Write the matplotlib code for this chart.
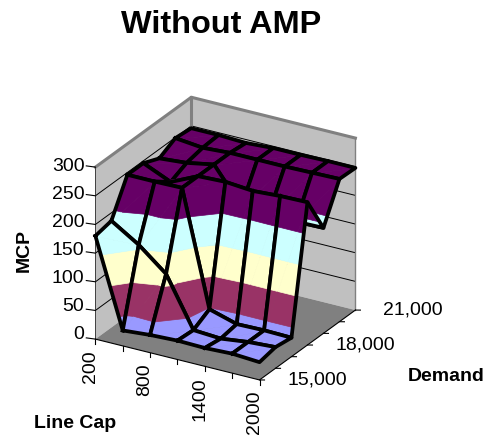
import matplotlib
matplotlib.use("Agg")
import matplotlib.pyplot as plt
from mpl_toolkits.mplot3d import proj3d
from mpl_toolkits.mplot3d.art3d import Poly3DCollection

plt.rcParams["font.family"] = ["Liberation Sans", "DejaVu Sans"]

line_cap = [200, 500, 800, 1100, 1400, 1700, 2000]
demand = [15000, 16000, 17000, 18000, 19000, 20000, 21000]
line_cap_ticks = [200, 800, 1400, 2000]
demand_ticks = [15000, 18000, 21000]
mcp_ticks = [0, 50, 100, 150, 200, 250, 300]

# MCP per line cap, one list for each demand level
mcp_15000 = [180, 27, 31, 33, 32, 34, 31]
mcp_16000 = [186, 156, 117, 31, 28, 34, 37]
mcp_17000 = [246, 246, 247, 47, 33, 34, 33]
mcp_18000 = [246, 225, 247, 249, 245, 248, 249]
mcp_19000 = [234, 238, 247, 186, 185, 183, 184]
mcp_20000 = [249, 244, 247, 247, 247, 248, 249]
mcp_21000 = [246, 246, 244, 247, 247, 248, 248]
mcp = [mcp_15000, mcp_16000, mcp_17000, mcp_18000, mcp_19000, mcp_20000, mcp_21000]

band_edges = [0, 50, 100, 150, 200, 250, 300]
band_colors = ["#9999FF", "#993366", "#FFFFCC", "#CCFFFF", "#660066", "#FF8080"]

wallColor = "#C0C0C0"
floorColor = "#808080"
rimColor = "#808080"

W, H = 492, 436
fig = plt.figure(figsize=(W / 100, H / 100), dpi=100)
ax = fig.add_axes([20 / W, -8 / H, 400 / W, 400 / H], projection="3d", proj_type="ortho")
ax.view_init(elev=25.2, azim=-59.7)
ax.set_box_aspect((1, 1, 1), zoom=0.799)
ax.set_axis_off()
ax.computed_zorder = False
ax.autoscale(False)
ax.set_xlim(line_cap[0], line_cap[-1], view_margin=0)
ax.set_ylim(demand[0], demand[-1], view_margin=0)
ax.set_zlim(0, 300, view_margin=0)

x0, x1 = line_cap[0], line_cap[-1]
y0, y1 = demand[0], demand[-1]
zTop = mcp_ticks[-1]


def add_poly(verts, color, z, edge="none", lw=0):
    poly = Poly3DCollection([verts], facecolors=color, edgecolors=edge, linewidths=lw, zorder=z)
    ax.add_collection3d(poly, autolim=False)


# Walls and floor
add_poly([(x0, y0, 0), (x0, y1, 0), (x0, y1, zTop), (x0, y0, zTop)], wallColor, 1)
add_poly([(x0, y1, 0), (x1, y1, 0), (x1, y1, zTop), (x0, y1, zTop)], wallColor, 1)
add_poly([(x0, y0, 0), (x1, y0, 0), (x1, y1, 0), (x0, y1, 0)], floorColor, 1)

for t in mcp_ticks[1:-1]:
    ax.plot([x0, x0, x1], [y0, y1, y1], [t, t, t], color="black", lw=0.7, zorder=2)

ax.plot([x0, x0, x1], [y0, y1, y1], [zTop, zTop, zTop], color=rimColor, lw=2.2, zorder=3)
ax.plot([x0, x0], [y1, y1], [0, zTop], color=rimColor, lw=2.2, zorder=3)
ax.plot([x1, x1], [y1, y1], [0, zTop], color=rimColor, lw=1.0, zorder=3)
ax.plot([x0, x0], [y0, y0], [0, zTop], color="#404040", lw=0.7, zorder=3)
ax.plot([x0, x1, x1], [y0, y0, y1], [0, 0, 0], color="black", lw=0.8, zorder=3)


def clip_band(tri, lo, hi):
    # Sutherland-Hodgman against the two height limits of a band
    pts = tri
    for limit, keep in ((lo, lambda v: v >= lo), (hi, lambda v: v <= hi)):
        out = []
        for k in range(len(pts)):
            a, b = pts[k], pts[(k + 1) % len(pts)]
            if keep(a[2]):
                out.append(a)
            if keep(a[2]) != keep(b[2]):
                s = (limit - a[2]) / (b[2] - a[2])
                out.append(tuple(a[n] + s * (b[n] - a[n]) for n in range(3)))
        pts = out
        if not pts:
            break
    return pts


# Surface, painted from the far corner to the near corner
order = 10
for j in range(len(demand) - 2, -1, -1):
    for i in range(len(line_cap) - 1):
        a = (line_cap[i], demand[j], mcp[j][i])
        b = (line_cap[i + 1], demand[j], mcp[j][i + 1])
        c = (line_cap[i + 1], demand[j + 1], mcp[j + 1][i + 1])
        d = (line_cap[i], demand[j + 1], mcp[j + 1][i])
        for tri in ([a, c, d], [a, b, c]):
            for lo, hi, color in zip(band_edges[:-1], band_edges[1:], band_colors):
                pts = clip_band(tri, lo, hi)
                if len(pts) >= 3:
                    # hairline in the band colour keeps the triangle seams faint
                    add_poly(pts, color, order, edge=color, lw=0.5)
                    order += 1
        xs, ys, zs = zip(a, b, c, d, a)
        ax.plot(xs, ys, zs, color="black", lw=2.7, solid_joinstyle="round", zorder=order)
        order += 1

# Tick marks
for t in mcp_ticks:
    ax.plot([x0, x0 - 100], [y0, y0], [t, t - 1.8], color="black", lw=0.8, zorder=3)
for v in line_cap:
    ax.plot([v, v], [y0, y0], [0, -8], color="black", lw=0.8, zorder=3)
for v in demand:
    ax.plot([x1, x1 + 55], [v, v], [0, 2.1], color="black", lw=0.8, zorder=3)


def tick_label(x, y, z, text, dx, dy, **kw):
    px, py, _ = proj3d.proj_transform(x, y, z, ax.get_proj())
    ax.annotate(text, xy=(px, py), xytext=(dx * 0.72, dy * 0.72), textcoords="offset points",
                fontsize=14, color="black", **kw)


for t in mcp_ticks:
    tick_label(x0, y0, t, str(t), -11, 1 + 4 * (1 - t / zTop), ha="right", va="center")
for v in line_cap_ticks:
    tick_label(v, y0, 0, str(v), -5, -11, ha="center", va="top", rotation=90)
for v in demand_ticks:
    tick_label(x1, v, 0, f"{v:,}", 28, 0, ha="left", va="center")

fig.text(221 / W, 1 - 25 / H, "Without AMP", fontsize=23.4, fontweight="bold", ha="center", va="center")
fig.text(24 / W, 1 - 250 / H, "MCP", fontsize=14, fontweight="bold", rotation=90, ha="center", va="center")
fig.text(408 / W, 1 - 376 / H, "Demand", fontsize=14, fontweight="bold", ha="left", va="center")
fig.text(34 / W, 1 - 423 / H, "Line Cap", fontsize=14, fontweight="bold", ha="left", va="center")

fig.savefig("out.png", dpi=100)
